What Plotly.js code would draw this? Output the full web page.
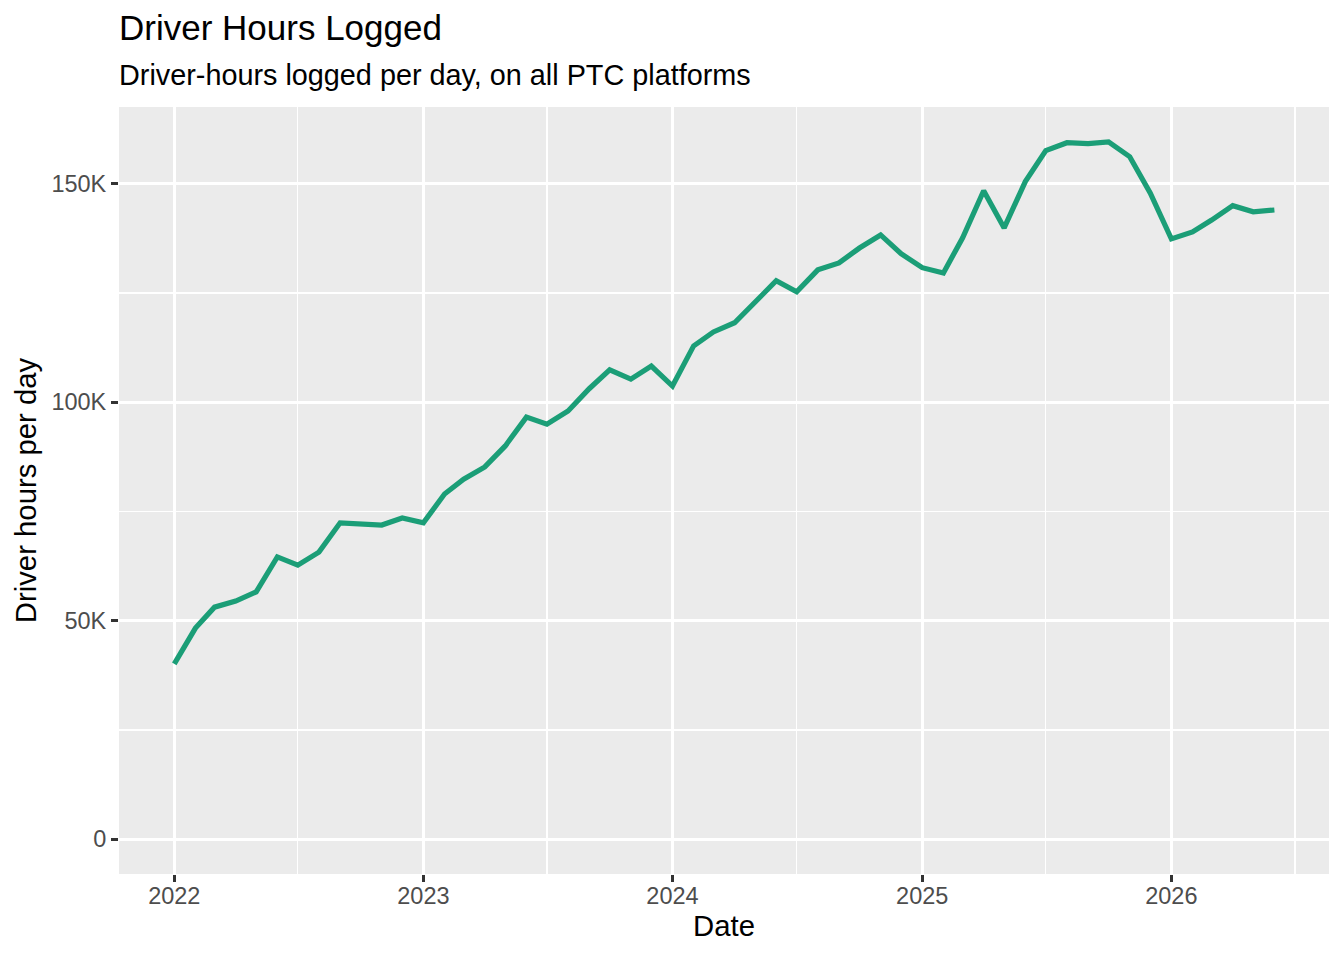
<!DOCTYPE html>
<html>
<head>
<meta charset="utf-8">
<script src="https://cdn.plot.ly/plotly-3.0.1.min.js"></script>
<style>
  html, body { margin: 0; padding: 0; background: #ffffff; }
  #plot { width: 1344px; height: 960px; }
</style>
</head>
<body>
<div id="plot"></div>
<script>
// monthly observations, first of each month
const months = [
    '2022-01-01', '2022-02-01', '2022-03-01', '2022-04-01', '2022-05-01', '2022-06-01',
    '2022-07-01', '2022-08-01', '2022-09-01', '2022-10-01', '2022-11-01', '2022-12-01',
    '2023-01-01', '2023-02-01', '2023-03-01', '2023-04-01', '2023-05-01', '2023-06-01',
    '2023-07-01', '2023-08-01', '2023-09-01', '2023-10-01', '2023-11-01', '2023-12-01',
    '2024-01-01', '2024-02-01', '2024-03-01', '2024-04-01', '2024-05-01', '2024-06-01',
    '2024-07-01', '2024-08-01', '2024-09-01', '2024-10-01', '2024-11-01', '2024-12-01',
    '2025-01-01', '2025-02-01', '2025-03-01', '2025-04-01', '2025-05-01', '2025-06-01',
    '2025-07-01', '2025-08-01', '2025-09-01', '2025-10-01', '2025-11-01', '2025-12-01',
    '2026-01-01', '2026-02-01', '2026-03-01', '2026-04-01', '2026-05-01', '2026-06-01'
];

// driver-hours logged per day
const driverHours = [
    40100, 48300, 53100, 54500, 56600, 64600, 62700, 65700, 72400, 72100, 71900, 73500,
    72400, 79000, 82400, 85200, 90000, 96600, 95000, 98000, 103100, 107400, 105300, 108300,
    103700, 112900, 116100, 118200, 123000, 127800, 125300, 130300, 131900, 135300, 138300, 134000,
    130800, 129600, 137600, 148400, 139900, 150500, 157600, 159400, 159200, 159600, 156200, 147900,
    137400, 139000, 141700, 145000, 143600, 144000
];

const yTickVals = [0, 50000, 100000, 150000];
const yTickText = ['0', '50K', '100K', '150K'];
const yMinorVals = [25000, 75000, 125000];
const xTickVals = ['2022-01-01', '2023-01-01', '2024-01-01', '2025-01-01', '2026-01-01'];
const xTickText = ['2022', '2023', '2024', '2025', '2026'];
const xMinorVals = ['2022-07-01', '2023-07-01', '2024-07-01', '2025-07-01', '2026-07-01'];

const FONT = 'Liberation Sans, Arial, sans-serif';
const lineColor = '#1b9e77';

// ggplot style padding: 5% on each side of the data range
function padRange(lo, hi) {
    let pad = (hi - lo) * 0.05;
    return [lo - pad, hi + pad];
}

let yRange = padRange(0, Math.max(...driverHours));
let t0 = new Date(months[0]).getTime();
let t1 = new Date(months[months.length - 1]).getTime();
let xRange = padRange(t0, t1).map(t => new Date(t).toISOString().slice(0, 10));

let trace = {
    x: months,
    y: driverHours,
    type: 'scatter',
    mode: 'lines',
    line: {color: lineColor, width: 5.2},
    hoverinfo: 'x+y'
};

let layout = {
    width: 1344,
    height: 960,
    margin: {l: 119, r: 15, t: 107, b: 86},
    paper_bgcolor: '#ffffff',
    plot_bgcolor: '#ebebeb',
    showlegend: false,
    font: {family: FONT, color: '#000000'},
    title: {
        text: 'Driver Hours Logged',
        font: {family: FONT, size: 35, color: '#000000'},
        xref: 'paper', x: 0, xanchor: 'left',
        yref: 'container', y: 1 - 28 / 960, yanchor: 'middle'
    },
    annotations: [{
        text: 'Driver-hours logged per day, on all PTC platforms',
        xref: 'paper', x: 0, xanchor: 'left', xshift: -2,
        yref: 'paper', y: 1 + (107 - 75) / 767, yanchor: 'middle',
        showarrow: false,
        font: {family: FONT, size: 28.8, color: '#000000'}
    }],
    xaxis: {
        type: 'date',
        range: xRange,
        tickvals: xTickVals,
        ticktext: xTickText,
        ticks: 'outside',
        ticklen: 7,
        tickwidth: 2.8,
        tickcolor: '#333333',
        ticklabelstandoff: -6,
        tickfont: {family: FONT, size: 23.5, color: '#4d4d4d'},
        showgrid: true,
        gridcolor: '#ffffff',
        gridwidth: 2.8,
        minor: {
            tickvals: xMinorVals,
            showgrid: true,
            gridcolor: '#ffffff',
            gridwidth: 1.4,
            ticks: ''
        },
        zeroline: false,
        showline: false,
        title: {
            text: 'Date',
            font: {family: FONT, size: 29.3, color: '#000000'},
            standoff: 5
        }
    },
    yaxis: {
        range: yRange,
        tickvals: yTickVals,
        ticktext: yTickText,
        ticks: 'outside',
        ticklen: 7,
        tickwidth: 2.8,
        tickcolor: '#333333',
        tickfont: {family: FONT, size: 23.5, color: '#4d4d4d'},
        showgrid: true,
        gridcolor: '#ffffff',
        gridwidth: 2.8,
        minor: {
            tickvals: yMinorVals,
            showgrid: true,
            gridcolor: '#ffffff',
            gridwidth: 1.4,
            ticks: ''
        },
        zeroline: false,
        showline: false,
        title: {
            text: 'Driver hours per day',
            font: {family: FONT, size: 29.3, color: '#000000'},
            standoff: 6
        }
    }
};

Plotly.newPlot('plot', [trace], layout, {displayModeBar: false, staticPlot: true});
</script>
</body>
</html>
